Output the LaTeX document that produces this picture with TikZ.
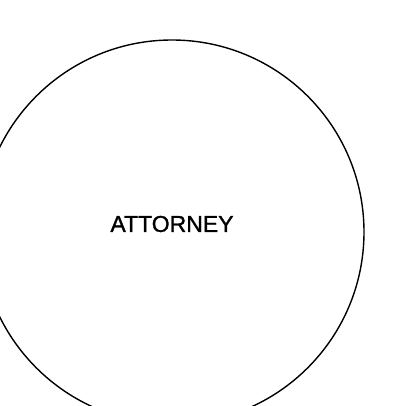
\documentclass[tikz,border=0pt]{standalone}
\usepackage{fontspec}
\setmainfont{Liberation Sans}
\newfontfamily\lblfont[FakeBold=1.2]{Liberation Sans}
\begin{document}
\begin{tikzpicture}[x=1pt,y=-1pt,
  ring/.style={circle,draw,line width=1.4pt,minimum size=384pt,inner sep=0pt},
  lbl/.style={font=\lblfont\fontsize{23}{25}\selectfont,inner sep=0pt}]
\useasboundingbox (0,0) rectangle (415,406);
\clip (0,0) rectangle (415,406);
\node[ring] (c) at (172,232) {};
\node[lbl] (t) at (172,224) {ATTORNEY};
\end{tikzpicture}
\end{document}
